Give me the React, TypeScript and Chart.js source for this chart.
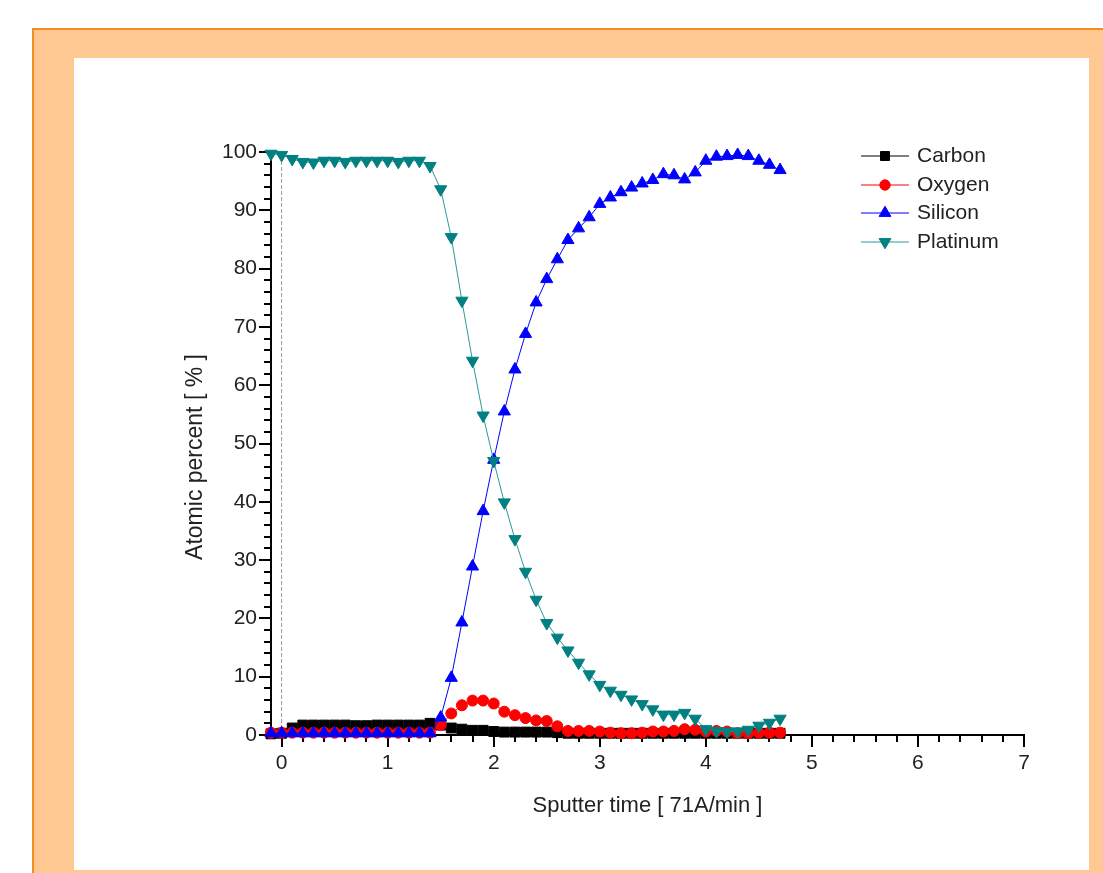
import React, { useEffect, useRef } from 'react';
import { Chart, registerables } from 'chart.js';

Chart.register(...registerables);

// ---- data ----
const TIME = [
  -0.1, 0, 0.1, 0.2, 0.3, 0.4, 0.5, 0.6, 0.7, 0.8, 0.9, 1.0, 1.1, 1.2, 1.3, 1.4,
  1.5, 1.6, 1.7, 1.8, 1.9, 2.0, 2.1, 2.2, 2.3, 2.4, 2.5, 2.6, 2.7, 2.8, 2.9, 3.0,
  3.1, 3.2, 3.3, 3.4, 3.5, 3.6, 3.7, 3.8, 3.9, 4.0, 4.1, 4.2, 4.3, 4.4, 4.5, 4.6, 4.7,
];

const CARBON = [
  0.2, 0.3, 1.2, 1.7, 1.7, 1.7, 1.7, 1.7, 1.6, 1.6, 1.7, 1.7, 1.7, 1.7, 1.7, 2.0,
  1.7, 1.2, 1.0, 0.8, 0.8, 0.6, 0.5, 0.5, 0.5, 0.5, 0.5, 0.4, 0.3, 0.3, 0.3, 0.3,
  0.3, 0.3, 0.3, 0.3, 0.3, 0.3, 0.3, 0.3, 0.3, 0.3, 0.3, 0.3, 0.3, 0.3, 0.3, 0.3, 0.3,
];

const OXYGEN = [
  0.4, 0.4, 0.4, 0.4, 0.4, 0.4, 0.4, 0.4, 0.4, 0.4, 0.4, 0.4, 0.4, 0.4, 0.4, 0.4,
  1.7, 3.7, 5.1, 5.9, 5.9, 5.4, 4.0, 3.4, 2.9, 2.5, 2.4, 1.5, 0.7, 0.7, 0.7, 0.6,
  0.4, 0.3, 0.3, 0.4, 0.6, 0.6, 0.7, 1.0, 0.9, 0.6, 0.7, 0.6, 0.3, 0.3, 0.4, 0.4, 0.4,
];

const SILICON = [
  0.3, 0.3, 0.3, 0.3, 0.3, 0.3, 0.3, 0.3, 0.3, 0.3, 0.3, 0.3, 0.3, 0.3, 0.3, 0.3,
  3.0, 9.8, 19.3, 28.9, 38.4, 47.2, 55.5, 62.7, 68.8, 74.2, 78.2, 81.6, 84.9, 86.9, 88.8, 91.1,
  92.2, 93.1, 93.9, 94.6, 95.2, 96.2, 96.0, 95.3, 96.5, 98.5, 99.2, 99.3, 99.5, 99.3, 98.5, 97.8, 96.9,
];

const PLATINUM = [
  99.7, 99.5, 98.8, 98.3, 98.2, 98.5, 98.5, 98.3, 98.5, 98.5, 98.5, 98.5, 98.3, 98.5, 98.5, 97.6,
  93.6, 85.4, 74.5, 64.2, 54.8, 47.0, 39.9, 33.6, 28.0, 23.2, 19.2, 16.7, 14.5, 12.4, 10.4, 8.6,
  7.6, 6.9, 6.1, 5.3, 4.4, 3.5, 3.5, 3.8, 2.8, 1.0, 0.7, 0.6, 0.6, 0.9, 1.6, 2.1, 2.8,
];

const X_TICKS = [0, 1, 2, 3, 4, 5, 6, 7];
const Y_TICKS = [0, 10, 20, 30, 40, 50, 60, 70, 80, 90, 100];
const X_MINOR_STEP = 0.2;
const Y_MINOR_STEP = 2;

const SERIES_NAMES = ['Carbon', 'Oxygen', 'Silicon', 'Platinum'];

const FONT = '"Liberation Sans", Arial, sans-serif';
const TEXT = '#222';

const pts = (ys: number[]) => TIME.map((x, i) => ({ x, y: ys[i] }));

type Shape = 'rect' | 'circle' | 'up' | 'down';
const STYLES: { color: string; line: string; shape: Shape }[] = [
  { color: '#000000', line: '#000000', shape: 'rect' },
  { color: '#ff0000', line: '#ff0000', shape: 'circle' },
  { color: '#0000ff', line: '#0000ff', shape: 'up' },
  { color: '#008080', line: '#2a9a9a', shape: 'down' },
];

function drawShape(ctx: CanvasRenderingContext2D, shape: Shape, x: number, y: number) {
  ctx.beginPath();
  if (shape === 'rect') {
    ctx.rect(x - 4.5, y - 4.5, 9, 9);
  } else if (shape === 'circle') {
    ctx.arc(x, y, 5.2, 0, Math.PI * 2);
  } else {
    const r = 6.8;
    const s = shape === 'up' ? 1 : -1;
    ctx.moveTo(x, y - s * r);
    ctx.lineTo(x + r * 0.866, y + s * r * 0.5);
    ctx.lineTo(x - r * 0.866, y + s * r * 0.5);
    ctx.closePath();
  }
  ctx.fill();
  ctx.stroke();
}

const decorPlugin = {
  id: 'decor',
  beforeDatasetsDraw(chart: any) {
    const { ctx } = chart;
    const xs = chart.scales.x;
    const ys = chart.scales.y;
    ctx.save();
    ctx.strokeStyle = '#000';
    ctx.lineWidth = 2;
    ctx.beginPath();
    const nx = Math.round((X_TICKS[X_TICKS.length - 1] - X_TICKS[0]) / X_MINOR_STEP);
    for (let i = 0; i <= nx; i++) {
      const v = X_TICKS[0] + i * X_MINOR_STEP;
      if (Math.abs(v - Math.round(v)) < 1e-6) continue;
      const px = Math.round(xs.getPixelForValue(v));
      ctx.moveTo(px, ys.bottom + 1);
      ctx.lineTo(px, ys.bottom + 7);
    }
    const ny = Math.round((Y_TICKS[Y_TICKS.length - 1] - Y_TICKS[0]) / Y_MINOR_STEP);
    for (let i = 0; i <= ny; i++) {
      const v = Y_TICKS[0] + i * Y_MINOR_STEP;
      if (v % 10 === 0) continue;
      const py = Math.round(ys.getPixelForValue(v));
      ctx.moveTo(xs.left - 1, py);
      ctx.lineTo(xs.left - 7, py);
    }
    ctx.stroke();
    ctx.restore();
  },
  afterDraw(chart: any) {
    const { ctx } = chart;
    ctx.save();
    // y-axis title
    ctx.translate(196, 457);
    ctx.rotate(-Math.PI / 2);
    ctx.font = `23px ${FONT}`;
    ctx.fillStyle = TEXT;
    ctx.textAlign = 'center';
    ctx.textBaseline = 'middle';
    ctx.fillText('Atomic percent [ % ]', 0, 0);
    ctx.restore();

    // legend
    const rows = [156, 185, 213, 242];
    ctx.save();
    SERIES_NAMES.forEach((name, i) => {
      const st = STYLES[i];
      const y = rows[i];
      ctx.strokeStyle = st.line;
      ctx.lineWidth = 1;
      ctx.beginPath();
      ctx.moveTo(861, y);
      ctx.lineTo(909, y);
      ctx.stroke();
      ctx.fillStyle = st.color;
      ctx.strokeStyle = st.color;
      drawShape(ctx, st.shape, 885, y);
      ctx.font = `21px ${FONT}`;
      ctx.fillStyle = TEXT;
      ctx.textAlign = 'left';
      ctx.textBaseline = 'middle';
      ctx.fillText(name, 917, y);
    });
    ctx.restore();
  },
};

export default function App() {
  const ref = useRef<HTMLCanvasElement | null>(null);

  useEffect(() => {
    if (!ref.current) return;
    const common = { borderWidth: 1, pointBorderWidth: 1, clip: false as any, tension: 0 };
    const chart = new Chart(ref.current, {
      type: 'line',
      data: {
        datasets: [
          {
            label: SERIES_NAMES[0], data: pts(CARBON), ...common,
            borderColor: STYLES[0].line, backgroundColor: STYLES[0].color,
            pointBackgroundColor: STYLES[0].color, pointBorderColor: STYLES[0].color,
            pointStyle: 'rect', pointRadius: 7, order: 4,
          },
          {
            label: SERIES_NAMES[1], data: pts(OXYGEN), ...common,
            borderColor: STYLES[1].line, backgroundColor: STYLES[1].color,
            pointBackgroundColor: STYLES[1].color, pointBorderColor: STYLES[1].color,
            pointStyle: 'circle', pointRadius: 5.5, order: 3,
          },
          {
            label: SERIES_NAMES[2], data: pts(SILICON), ...common,
            borderColor: STYLES[2].line, backgroundColor: STYLES[2].color,
            pointBackgroundColor: STYLES[2].color, pointBorderColor: STYLES[2].color,
            pointStyle: 'triangle', pointRadius: 7, order: 2,
          },
          {
            label: SERIES_NAMES[3], data: pts(PLATINUM), ...common,
            borderColor: STYLES[3].line, backgroundColor: STYLES[3].color,
            pointBackgroundColor: STYLES[3].color, pointBorderColor: STYLES[3].color,
            pointStyle: 'triangle', pointRotation: 180, pointRadius: 7, order: 1,
          },
          {
            label: 'zero', data: [{ x: 0, y: 0 }, { x: 0, y: 100 }],
            borderColor: '#9a9a9a', borderWidth: 1, borderDash: [4, 2],
            pointRadius: 0, order: 5, clip: false as any,
          },
        ],
      },
      options: {
        responsive: false,
        animation: false,
        events: [],
        layout: { padding: { top: 152, right: 79, left: 180, bottom: 48 } },
        plugins: { legend: { display: false }, tooltip: { enabled: false }, title: { display: false } },
        scales: {
          x: {
            type: 'linear',
            min: -0.1,
            max: 7,
            afterBuildTicks: (s: any) => { s.ticks = X_TICKS.map((v) => ({ value: v })); },
            afterFit: (s: any) => { s.height = 90; },
            ticks: {
              callback: (v: any) => String(v),
              font: { family: FONT, size: 21 },
              color: TEXT,
              padding: 4,
              maxRotation: 0,
              autoSkip: false,
            },
            grid: { drawOnChartArea: false, drawTicks: true, tickLength: 12, lineWidth: 2, color: '#000' },
            border: { display: true, color: '#000', width: 2 },
            title: {
              display: true,
              text: 'Sputter time [ 71A/min ]',
              font: { family: FONT, size: 22 },
              color: TEXT,
              padding: { top: 0, bottom: 6 },
            },
          },
          y: {
            type: 'linear',
            min: 0,
            max: 100,
            afterBuildTicks: (s: any) => { s.ticks = Y_TICKS.map((v) => ({ value: v })); },
            afterFit: (s: any) => { s.width = 91; },
            ticks: {
              callback: (v: any) => String(v),
              font: { family: FONT, size: 21 },
              color: TEXT,
              padding: 2,
              autoSkip: false,
            },
            grid: { drawOnChartArea: false, drawTicks: true, tickLength: 12, lineWidth: 2, color: '#000' },
            border: { display: true, color: '#000', width: 2 },
          },
        },
      },
      plugins: [decorPlugin],
    } as any);
    return () => chart.destroy();
  }, []);

  return (
    <div style={{ position: 'fixed', left: 0, top: 0, width: 1103, height: 873, background: '#fff', overflow: 'hidden' }}>
      <div
        style={{
          position: 'absolute', left: 32, top: 28, width: 1103, height: 873,
          background: '#FFC892', borderTop: '2px solid #F58C1F', borderLeft: '2px solid #F58C1F',
          boxSizing: 'border-box',
        }}
      />
      <div style={{ position: 'absolute', left: 74, top: 58, width: 1015, height: 812, background: '#fff' }} />
      <canvas ref={ref} width={1103} height={873} style={{ position: 'absolute', left: 0, top: 0 }} />
    </div>
  );
}
